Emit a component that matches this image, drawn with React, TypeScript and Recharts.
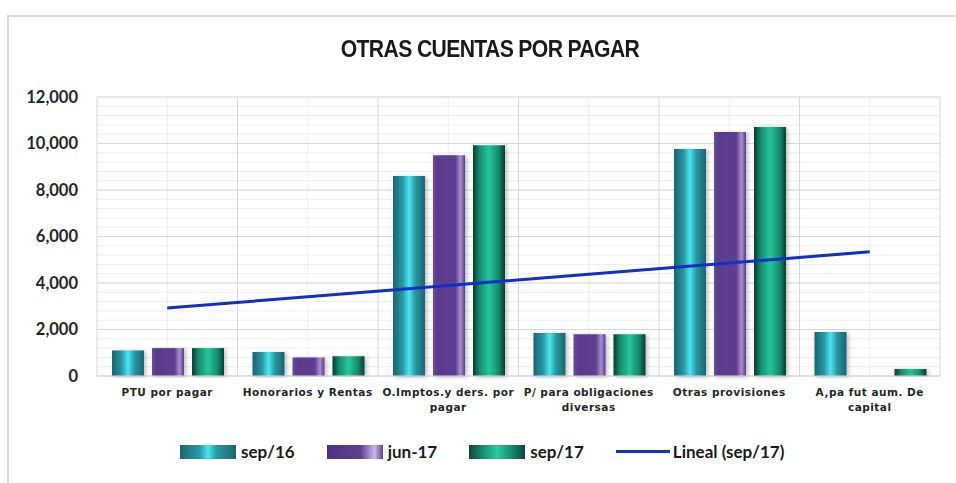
import { ComposedChart, Bar, Line, XAxis, YAxis, CartesianGrid } from "recharts";

const categories = [
  "PTU por pagar",
  "Honorarios y Rentas",
  "O.Imptos.y ders. por pagar",
  "P/ para obligaciones diversas",
  "Otras provisiones",
  "A,pa fut aum. De capital",
];
const tickLines = [
  ["PTU por pagar"],
  ["Honorarios y Rentas"],
  ["O.Imptos.y ders. por", "pagar"],
  ["P/ para obligaciones", "diversas"],
  ["Otras provisiones"],
  ["A,pa fut aum. De", "capital"],
];
const sep16 = [1100, 1030, 8600, 1850, 9760, 1890];
const jun17 = [1200, 800, 9500, 1800, 10490, null];
const sep17 = [1200, 850, 9930, 1800, 10710, 300];
const trendSep17 = [2920, 3410, 3890, 4380, 4860, 5340];
const yTicks = [0, 2000, 4000, 6000, 8000, 10000, 12000];

const data = categories.map((name, i) => ({
  name,
  sep16: sep16[i],
  jun17: jun17[i],
  sep17: sep17[i],
  trend: trendSep17[i],
}));

const legendItems = [
  { label: "sep/16", bg: "linear-gradient(90deg,#1b6672 0%,#2a9aa6 35%,#46e4ee 50%,#2a9aa6 65%,#1b6672 100%)" },
  { label: "jun-17", bg: "linear-gradient(90deg,#4f3380 0%,#5e3d92 60%,#c9b6e6 85%,#5e3d92 100%)" },
  { label: "sep/17", bg: "linear-gradient(90deg,#0b4a3a 0%,#1a9c7c 30%,#27c99a 50%,#1a9c7c 70%,#0b4a3a 100%)" },
];

const XTick = (props: any) => {
  const { x, y, index } = props;
  const lines = tickLines[index] || [props.payload.value];
  return (
    <g>
      {lines.map((t: string, k: number) => (
        <text
          key={k}
          x={x}
          y={y + 18 + k * 15}
          textAnchor="middle"
          fontFamily="DejaVu Sans"
          fontWeight="bold"
          fontSize={10.5}
          letterSpacing={0.5}
          fill="#262626"
        >
          {t}
        </text>
      ))}
    </g>
  );
};

const minorH = (p: any) => {
  const o = p.offset;
  const out: number[] = [];
  for (let i = 0; i <= 30; i++) out.push(o.top + (o.height * i) / 30);
  return out;
};
const halfV = (p: any) => {
  const o = p.offset;
  const out: number[] = [];
  for (let i = 1; i < 12; i += 2) out.push(o.left + (o.width * i) / 12);
  return out;
};
const boundV = (p: any) => {
  const o = p.offset;
  const out: number[] = [];
  for (let i = 0; i <= 6; i++) out.push(o.left + (o.width * i) / 6);
  return out;
};

export default function App() {
  return (
    <div style={{ position: "absolute", left: 0, top: 0, width: 956, height: 483, background: "#fff", overflow: "hidden" }}>
      <div
        style={{
          position: "absolute",
          left: 7,
          top: 15,
          width: 970,
          height: 480,
          border: "2px solid #dadada",
          boxSizing: "border-box",
        }}
      />
      <div
        style={{
          position: "absolute",
          left: 0,
          top: 36,
          width: 980,
          textAlign: "center",
          fontFamily: "'Liberation Sans', Arial",
          fontWeight: "bold",
          fontSize: 23.5,
          letterSpacing: -0.7,
          color: "#1a1a1a",
          transform: "scaleX(0.9)",
        }}
      >
        OTRAS CUENTAS POR PAGAR
      </div>
      <div style={{ position: "absolute", left: 0, top: 0 }}>
        <ComposedChart
          width={956}
          height={483}
          data={data}
          margin={{ top: 97, right: 16, left: 0, bottom: 57 }}
          barCategoryGap={15}
          barGap={8}
        >
          <defs>
            <linearGradient id="gSep16" x1="0" y1="0" x2="1" y2="0">
              <stop offset="0%" stopColor="#1b6470" />
              <stop offset="30%" stopColor="#2a97a3" />
              <stop offset="50%" stopColor="#48e6f0" />
              <stop offset="70%" stopColor="#2a97a3" />
              <stop offset="100%" stopColor="#1b6470" />
            </linearGradient>
            <linearGradient id="gJun17" x1="0" y1="0" x2="1" y2="0">
              <stop offset="0%" stopColor="#6a4c9a" />
              <stop offset="15%" stopColor="#5a3a8c" />
              <stop offset="70%" stopColor="#5e3e92" />
              <stop offset="86%" stopColor="#a78fcc" />
              <stop offset="100%" stopColor="#5a3a8c" />
            </linearGradient>
            <linearGradient id="gSep17" x1="0" y1="0" x2="1" y2="0">
              <stop offset="0%" stopColor="#083c30" />
              <stop offset="20%" stopColor="#168a6c" />
              <stop offset="50%" stopColor="#25c699" />
              <stop offset="80%" stopColor="#168a6c" />
              <stop offset="100%" stopColor="#083c30" />
            </linearGradient>
            <filter id="shadow" x="-20%" y="-5%" width="140%" height="110%">
              <feDropShadow dx="2" dy="1" stdDeviation="2" floodColor="#000" floodOpacity="0.25" />
            </filter>
          </defs>
          <CartesianGrid
            stroke="#eeeeee"
            horizontalCoordinatesGenerator={minorH}
            verticalCoordinatesGenerator={halfV}
          />
          <CartesianGrid stroke="#d9d9d9" verticalCoordinatesGenerator={boundV} />
          <XAxis
            dataKey="name"
            height={50}
            axisLine={{ stroke: "#d9d9d9" }}
            tickLine={false}
            tickSize={0}
            interval={0}
            tick={<XTick />}
          />
          <YAxis
            width={97}
            domain={[0, 12000]}
            ticks={yTicks}
            axisLine={false}
            tickLine={false}
            tickSize={0}
            tickMargin={19}
            tickFormatter={(v: number) => v.toLocaleString("en-US")}
            tick={{ fill: "#262626", fontSize: 16.5, fontWeight: "bold", fontFamily: "Lato" }}
          />
          <Bar dataKey="sep16" fill="url(#gSep16)" filter="url(#shadow)" isAnimationActive={false} />
          <Bar dataKey="jun17" fill="url(#gJun17)" filter="url(#shadow)" isAnimationActive={false} />
          <Bar dataKey="sep17" fill="url(#gSep17)" filter="url(#shadow)" isAnimationActive={false} />
          <Line
            dataKey="trend"
            type="linear"
            stroke="#1230c6"
            strokeWidth={3}
            dot={false}
            activeDot={false}
            isAnimationActive={false}
          />
        </ComposedChart>
      </div>
      <div
        style={{
          position: "absolute",
          left: 180,
          top: 441,
          display: "flex",
          alignItems: "center",
          fontFamily: "Lato",
          fontWeight: "bold",
          fontSize: 17,
          color: "#1a1a1a",
        }}
      >
        {legendItems.map((it) => (
          <div key={it.label} style={{ display: "flex", alignItems: "center", marginRight: 32 }}>
            <div style={{ width: 56, height: 14, background: it.bg, marginRight: 5 }} />
            <span>{it.label}</span>
          </div>
        ))}
        <div style={{ display: "flex", alignItems: "center" }}>
          <div style={{ width: 54, height: 3, background: "#1230c6", marginRight: 3 }} />
          <span>Lineal (sep/17)</span>
        </div>
      </div>
    </div>
  );
}
